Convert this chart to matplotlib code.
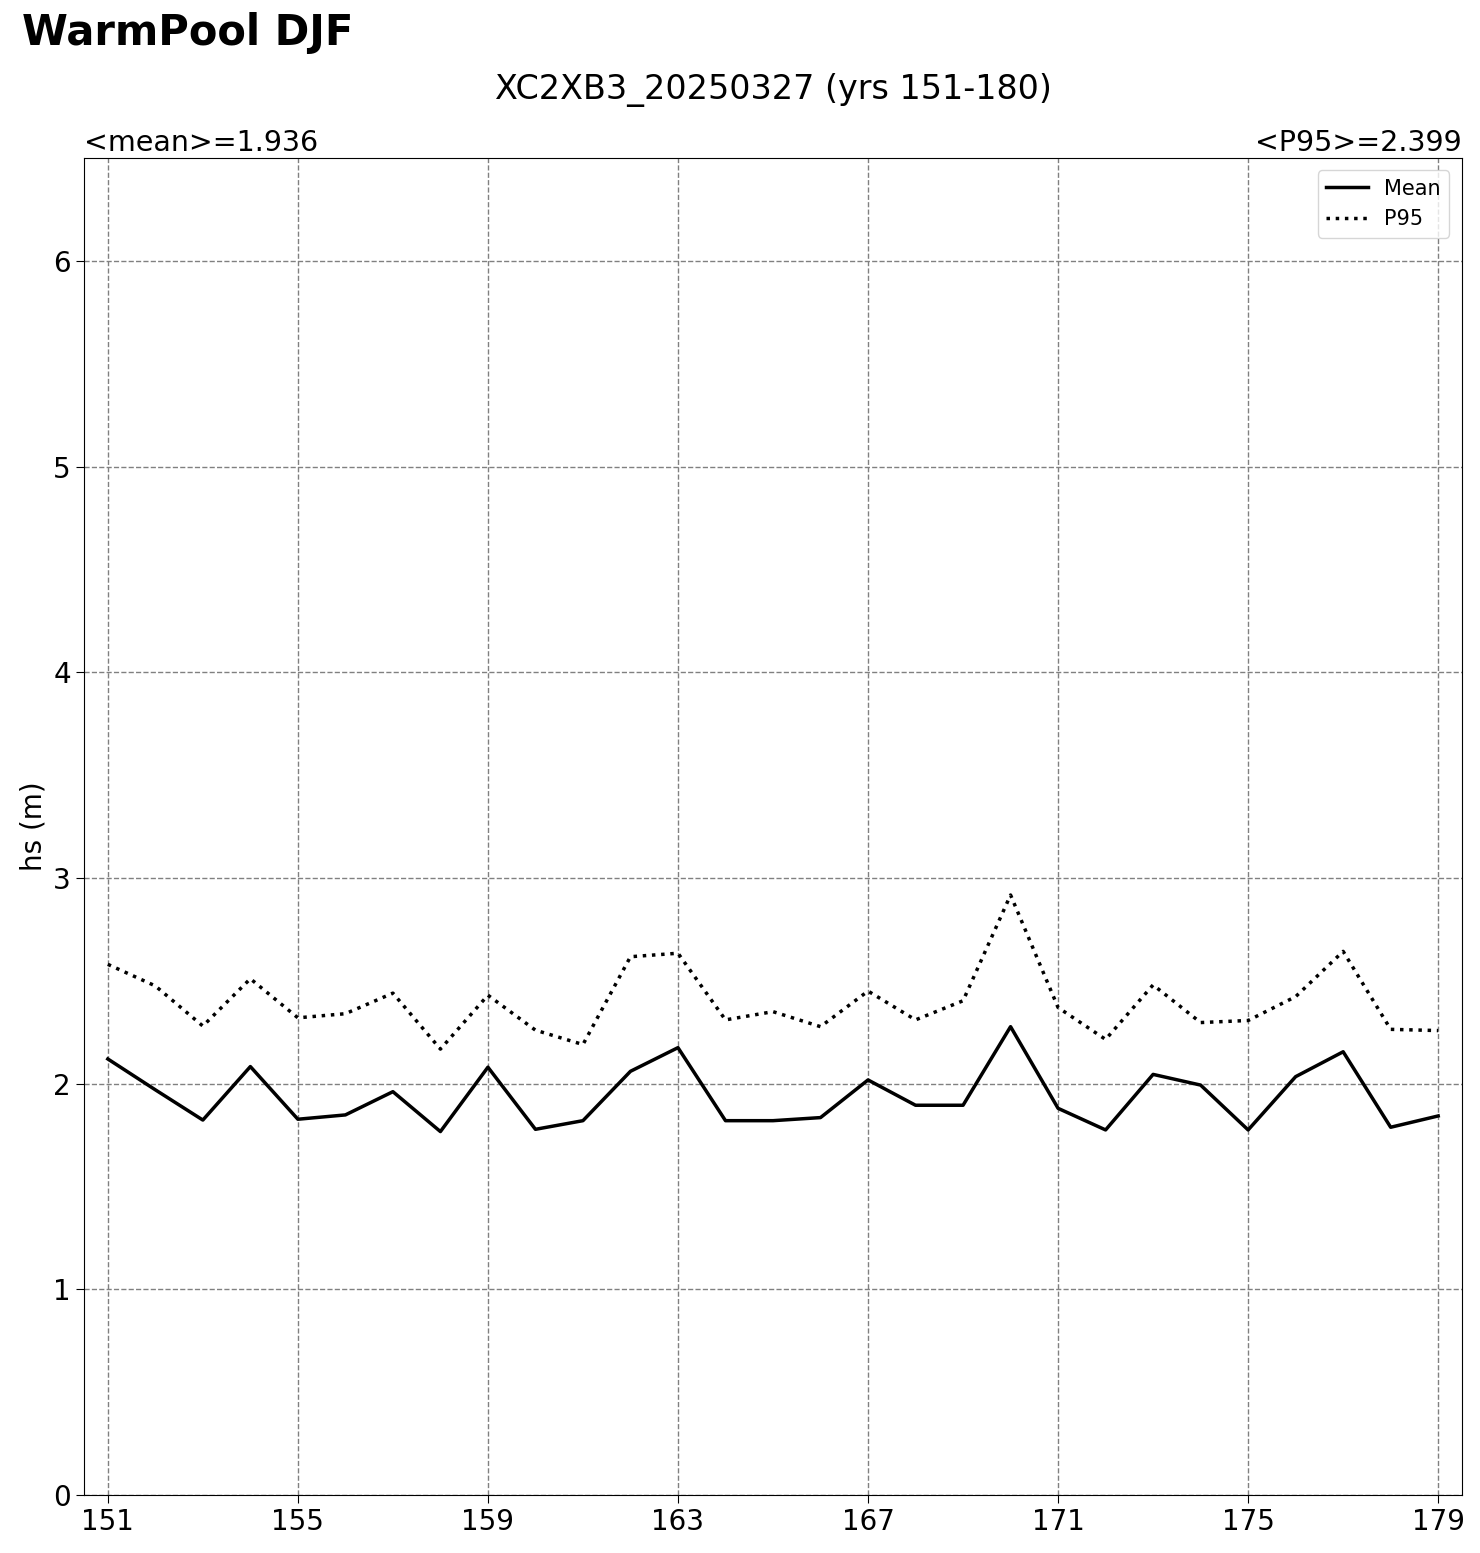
import numpy as np
import matplotlib.pyplot as plt

years = np.arange(151, 180)
hs_mean = [2.12, 1.97, 1.823, 2.083, 1.827, 1.848, 1.961, 1.767, 2.08, 1.778,
           1.82, 2.06, 2.175, 1.82, 1.82, 1.835, 2.018, 1.895, 1.895, 2.277,
           1.88, 1.775, 2.045, 1.993, 1.775, 2.034, 2.155, 1.788, 1.843]
hs_p95 = [2.58, 2.475, 2.28, 2.51, 2.32, 2.34, 2.44, 2.168, 2.43, 2.26,
          2.19, 2.617, 2.634, 2.31, 2.35, 2.277, 2.45, 2.31, 2.403, 2.917,
          2.37, 2.215, 2.48, 2.297, 2.307, 2.423, 2.643, 2.264, 2.258]

fig = plt.figure(figsize=(14.8, 15.53), dpi=100)
ax = fig.add_axes([0.0568, 0.0373, 0.931, 0.861])

ax.plot(years, hs_mean, color='k', linewidth=2.5, label='Mean')
ax.plot(years, hs_p95, color='k', linewidth=2.5, linestyle=':', label='P95')

ax.set_xlim(150.5, 179.5)
ax.set_ylim(0, 6.5)
ax.set_xticks(np.arange(151, 180, 4))
ax.set_yticks(np.arange(0, 7, 1))
ax.tick_params(labelsize=20, length=6)
ax.grid(True, linestyle='--', color='gray', linewidth=1)
ax.set_ylabel('hs (m)', fontsize=20)

ax.set_title('<mean>=1.936', loc='left', fontsize=20.5, pad=5)
ax.set_title('<P95>=2.399', loc='right', fontsize=20.5, pad=5)
fig.text(0.5225, 0.942, 'XC2XB3_20250327 (yrs 151-180)', ha='center', va='center', fontsize=24)
fig.text(0.015, 0.979, 'WarmPool DJF', ha='left', va='center', fontsize=30, fontweight='bold')

ax.legend(loc='upper right', fontsize=15, borderaxespad=0.6)

fig.savefig('out.png')
